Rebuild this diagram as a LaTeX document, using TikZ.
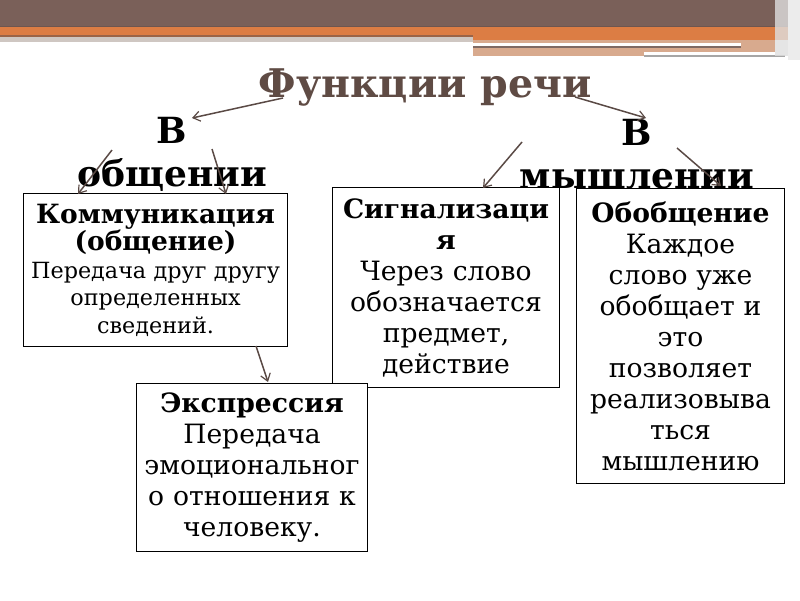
\documentclass[tikz,border=0pt]{standalone}
\usepackage{fontspec}
\setmainfont{DejaVu Serif}
\usetikzlibrary{arrows.meta}
\definecolor{hbrown}{HTML}{7A6059}
\definecolor{hbrownd}{HTML}{6E5650}
\definecolor{horange}{HTML}{DC7D44}
\definecolor{hdark}{HTML}{9A6448}
\definecolor{hgray}{HTML}{CFC7C2}
\definecolor{htan}{HTML}{D8AA8E}
\definecolor{hline}{HTML}{7E6A64}
\definecolor{titlec}{HTML}{5F4B44}
\definecolor{arrc}{HTML}{5A4A45}
\newcommand{\kbold}[1]{{\fontsize{26.5}{27}\selectfont\bfseries #1}}
\tikzset{
  box/.style={draw=black, line width=1pt, fill=white, align=center, inner sep=2pt, anchor=north west},
  boxfont/.style={font=\fontsize{26.6}{31}\selectfont},
  kfont/.style={font=\fontsize{22.3}{27.5}\selectfont},
  headfont/.style={font=\fontsize{36}{43}\selectfont\bfseries, align=center},
  conn/.style={draw=arrc, line width=1.5pt, -{Straight Barb[length=7pt,width=10pt,line width=1.2pt]}}
}
\begin{document}
\begin{tikzpicture}[x=1pt,y=-1pt]
\useasboundingbox (0,0) rectangle (800,600);
% header band
\fill[hbrown] (0,0) rectangle (800,26);
\fill[hbrownd] (0,26) rectangle (800,27);
\fill[horange] (0,27) rectangle (800,35);
\fill[hdark] (0,35) rectangle (473,37);
\fill[hgray] (0,37) rectangle (473,42);
\fill[horange] (473,35) rectangle (800,40);
\fill[htan] (473,40) rectangle (775,56);
\fill[white] (473,43) rectangle (741,46);
\fill[hline] (473,46) rectangle (741,48);
\fill[white] (644,52) rectangle (785,55);
\fill[gray!70] (644,55) rectangle (785,56.5);
\fill[gray!25, opacity=0.8] (775,0) rectangle (800,56);
\fill[gray!15] (788,0) rectangle (800,60);
% title
\node[font=\fontsize{39.5}{44}\selectfont\bfseries, text=titlec, anchor=base] (title) at (425,97) {Функции речи};
% headings
\node[headfont] (vo) at (172,154) {В\\общении};
\node[headfont] (vm) at (637,154) {В\\мышлении};
% boxes
\node[box, kfont, minimum width=264pt, minimum height=153pt, text width=260pt] (komm) at (23,193)
  {\kbold{Коммуникация}\\\kbold{(общение)}\\Передача друг другу\\определенных\\сведений.};
\node[box, boxfont, minimum width=227pt, minimum height=200pt, text width=223pt] (sign) at (332,187)
  {\textbf{Сигнализаци}\\\textbf{я}\\Через слово\\обозначается\\предмет,\\действие};
\node[box, boxfont, minimum width=208pt, minimum height=295pt, text width=204pt] (obob) at (576,188)
  {\textbf{Обобщение}\\Каждое\\слово уже\\обобщает и\\это\\позволяет\\реализовыва\\ться\\мышлению};
\node[box, boxfont, minimum width=231pt, minimum height=168pt, text width=227pt] (expr) at (136,383)
  {\textbf{Экспрессия}\\Передача\\эмоциональног\\о отношения к\\человеку.};
% connector end points
\coordinate (t1) at (283,98);
\coordinate (t2) at (575,97);
\coordinate (h1) at (192,118);
\coordinate (h2) at (646,118);
\coordinate (o1) at (112,150);
\coordinate (o2) at (212,149);
\coordinate (m1) at (522,142);
\coordinate (m2) at (677,148);
\coordinate (k1) at (78,194);
\coordinate (k2) at (226,194);
\coordinate (s1) at (483,188);
\coordinate (b1) at (721,186);
\coordinate (kb) at (256,346);
\coordinate (et) at (268,382);
\draw[conn] (t1) -- (h1);
\draw[conn] (t2) -- (h2);
\draw[conn] (o1) -- (k1);
\draw[conn] (o2) -- (k2);
\draw[conn] (m1) -- (s1);
\draw[conn] (m2) -- (b1);
\draw[conn] (kb) -- (et);
\end{tikzpicture}
\end{document}
